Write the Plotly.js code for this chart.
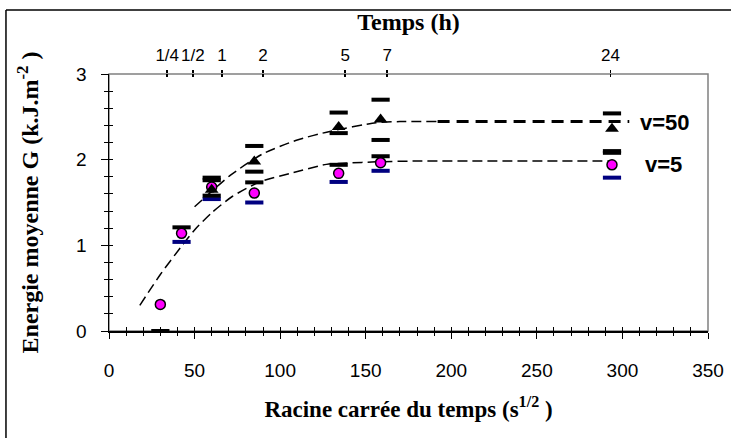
<!DOCTYPE html>
<html>
<head>
<meta charset="utf-8">
<script src="https://cdn.plot.ly/plotly-3.0.1.min.js"></script>
<style>html,body{margin:0;padding:0;background:#fff;}#chart{width:731px;height:438px;}</style>
</head>
<body>
<div id="chart"></div>
<script>
// Square root of time (s^1/2) for each measurement
var sqrtT = [30, 42.4, 60, 84.9, 134.2, 158.7, 293.9];
// v=5 series: mean, max, min
var v5 = [0.31, 1.14, 1.68, 1.61, 1.84, 1.965, 1.94];
var v5Max = [null, 1.21, 1.76, 1.735, 1.94, 2.04, 2.08];
var v5Min = [0.0, 1.04, 1.54, 1.50, 1.74, 1.87, 1.79];
// v=50 series: mean, max, min
var v50 = [null, null, 1.65, 1.98, 2.38, 2.47, 2.36];
var v50Max = [null, null, 1.79, 2.16, 2.55, 2.70, 2.54];
var v50Min = [null, null, 1.58, 1.86, 2.31, 2.23, 2.10];
// fitted trend curves
var fitV5X = [18, 30, 42, 50, 60, 72, 88, 106, 127, 139, 156, 180, 294];
var fitV5Y = [0.30, 0.66, 0.98, 1.18, 1.38, 1.57, 1.74, 1.84, 1.945, 1.96, 1.975, 1.984, 1.984];
var fitV50X = [50, 60, 71, 90, 110, 129, 156, 170, 192];
var fitV50Y = [1.45, 1.63, 1.82, 2.07, 2.23, 2.33, 2.43, 2.445, 2.445];
var fitV50TailX = [192, 304];
var fitV50TailY = [2.445, 2.445];
// top axis (time in hours)
var topTickVals = [34, 49, 66, 90, 138, 162.5, 293];
var topTickText = ["1/4", "1/2", "1", "2", "5", "7", "24"];
// series labels
var seriesLabels = ["v=50", "v=5"];
var labelX = [309, 312];
var labelY = [2.43, 1.94];

var NAVY = '#000080';
var ARIAL = 'Arial, "Liberation Sans", sans-serif';
var TIMES = '"Times New Roman", "Liberation Serif", serif';
var tickFont = {family: ARIAL, size: 19, color: '#000'};

function ghost(xa, ya) {
  return {x: sqrtT, y: v5, xaxis: xa, yaxis: ya, mode: 'markers', marker: {opacity: 0, size: 1}, hoverinfo: 'skip', showlegend: false};
}

var traces = [
  {x: fitV5X, y: fitV5Y, mode: 'lines', line: {color: '#000', width: 1.5, dash: '10px,5px', shape: 'spline', smoothing: 0.6}, hoverinfo: 'skip'},
  {x: fitV50X, y: fitV50Y, mode: 'lines', line: {color: '#000', width: 1.5, dash: '10px,5px', shape: 'spline', smoothing: 0.6}, hoverinfo: 'skip'},
  {x: fitV50TailX, y: fitV50TailY, mode: 'lines', line: {color: '#000', width: 3, dash: '12px,7px'}, hoverinfo: 'skip'},
  {x: sqrtT, y: v5Min, mode: 'markers', marker: {symbol: 'line-ew', size: 13, line: {width: 4, color: ['#000', NAVY, NAVY, NAVY, NAVY, NAVY, NAVY]}}},
  {x: sqrtT, y: v5Max, mode: 'markers', marker: {symbol: 'line-ew', size: 13, line: {width: 4, color: '#000'}}},
  {x: sqrtT, y: v50Min, mode: 'markers', marker: {symbol: 'line-ew', size: 13, line: {width: 4, color: '#000'}}},
  {x: sqrtT, y: v50Max, mode: 'markers', marker: {symbol: 'line-ew', size: 13, line: {width: 4, color: '#000'}}},
  {x: sqrtT, y: v5, mode: 'markers', marker: {symbol: 'circle', size: 10, color: '#FF00FF', line: {width: 1.5, color: '#000'}}},
  {x: sqrtT, y: v50, mode: 'markers', marker: {symbol: 'triangle-up', size: 12, color: '#000', line: {width: 0}}},
  ghost('x2', 'y'), ghost('x3', 'y'), ghost('x4', 'y'), ghost('x', 'y2')
];

var layout = {
  width: 731, height: 438,
  margin: {l: 109, r: 23, t: 74, b: 107},
  paper_bgcolor: '#fff', plot_bgcolor: '#fff',
  showlegend: false,
  xaxis: {
    range: [0, 350], dtick: 50, tick0: 0, showgrid: false, zeroline: false,
    showline: true, linecolor: '#000', linewidth: 1.5,
    ticks: 'outside', ticklen: 6, tickwidth: 1, tickcolor: '#000',
    minor: {dtick: 10, ticks: 'outside', ticklen: 3, tickwidth: 1, tickcolor: '#000'},
    tickfont: tickFont, ticklabelstandoff: 16,
    title: {text: '<b>Racine carrée du temps (s<sup>1/2</sup> )</b>', font: {family: TIMES, size: 23, color: '#000'}, standoff: 20}
  },
  xaxis3: {
    overlaying: 'x', anchor: 'y', range: [0, 350], dtick: 50, tick0: 0,
    showgrid: false, zeroline: false, showline: false, showticklabels: false,
    ticks: 'inside', ticklen: 4, tickwidth: 1, tickcolor: '#000',
    minor: {dtick: 10, ticks: 'inside', ticklen: 4, tickwidth: 1, tickcolor: '#000'}
  },
  xaxis2: {
    overlaying: 'x', side: 'top', anchor: 'y', range: [0, 350],
    tickmode: 'array', tickvals: topTickVals, ticktext: topTickText,
    showgrid: false, zeroline: false, showline: false,
    ticks: 'outside', ticklen: 3, tickwidth: 1.5, tickcolor: '#000',
    tickfont: {family: ARIAL, size: 17, color: '#000'},
    ticklabelstandoff: 2,
    title: {text: '<b>Temps (h)</b>', font: {family: TIMES, size: 24, color: '#000'}, standoff: 8}
  },
  xaxis4: {
    overlaying: 'x', side: 'top', anchor: 'y', range: [0, 350],
    tickmode: 'array', tickvals: topTickVals, showticklabels: false,
    showgrid: false, zeroline: false, showline: false,
    ticks: 'inside', ticklen: 3, tickwidth: 1.5, tickcolor: '#000'
  },
  yaxis: {
    range: [0, 3], dtick: 1, tick0: 0, showgrid: false, zeroline: false,
    showline: true, linecolor: '#000', linewidth: 1.5,
    ticks: 'outside', ticklen: 7, tickwidth: 1, tickcolor: '#000',
    minor: {dtick: 0.2, ticks: 'outside', ticklen: 4, tickwidth: 1, tickcolor: '#000'},
    tickfont: tickFont, ticklabelstandoff: 10,
    title: {text: '<b>Energie moyenne G (k.J.m<sup>-2</sup> )</b>', font: {family: TIMES, size: 24, color: '#000'}, standoff: 30}
  },
  yaxis2: {
    overlaying: 'y', anchor: 'x', range: [0, 3], dtick: 1, tick0: 0,
    showgrid: false, zeroline: false, showline: false, showticklabels: false,
    ticks: 'inside', ticklen: 4, tickwidth: 1, tickcolor: '#000',
    minor: {dtick: 0.2, ticks: 'inside', ticklen: 4, tickwidth: 1, tickcolor: '#000'}
  },
  shapes: [
    {type: 'rect', xref: 'paper', yref: 'paper', x0: 0, x1: 1, y0: 0, y1: 1, line: {color: '#808080', width: 1.5}, layer: 'below'},
    {type: 'line', xref: 'paper', yref: 'paper', x0: -0.172, x1: -0.172, y0: 1.249, y1: -0.6, line: {color: '#000', width: 1.5}},
    {type: 'line', xref: 'paper', yref: 'paper', x0: -0.172, x1: 1.2, y0: 1.249, y1: 1.249, line: {color: '#000', width: 1.5}}
  ],
  annotations: seriesLabels.map(function (t, i) {
    return {x: labelX[i], y: labelY[i], xref: 'x', yref: 'y', text: '<b>' + t + '</b>', showarrow: false,
      xanchor: 'left', yanchor: 'middle', font: {family: ARIAL, size: 22, color: '#000'}};
  })
};

Plotly.newPlot('chart', traces, layout, {displayModeBar: false, staticPlot: true});
</script>
</body>
</html>
